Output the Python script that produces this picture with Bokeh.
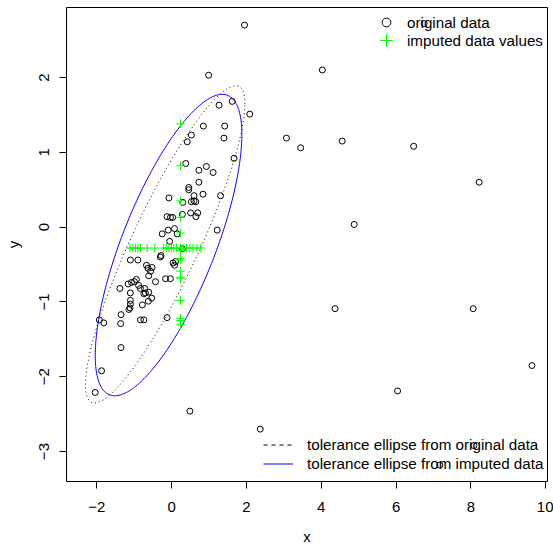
import numpy as np
from bokeh.plotting import figure
from bokeh.models import Range1d, FixedTicker, Legend, LegendItem
from bokeh.embed import file_html
from bokeh.resources import INLINE

# ---------------- data ----------------
orig_x = [1.95, 0.99, 4.03, 6.75, 2.09, 3.07, 3.45, 4.56, 6.47, 8.22, 4.88, 4.37, 8.06, 9.63,
          6.04, 2.37, 8.08, 7.17, 0.49,
          1.27, 1.62, 0.85, 1.42, 0.53, 0.42, 1.40, 1.67, 0.38, 0.73, 0.93, 1.11, 0.73, 0.46,
          0.46, -0.07, 0.60, 0.84, 0.30, 0.53, 0.60, 0.65, 1.31, 0.51, 0.70, 0.65, 0.29, -0.12,
          -0.03, 0.03, 1.22, -0.25, -0.09, 0.08, 0.15, -0.05, -0.28, -0.30, 0.29, 0.04, 0.11,
          0.08, -0.52,
          -1.10, -0.90, -0.67, -0.63, -0.56, -0.61, -0.16, -0.03, -0.43, -0.94, -0.99, -1.07,
          -1.16, -0.88, -0.83, -0.72, -0.61, -0.70, -1.38, -1.10, -0.74, -0.53, -0.62, -1.10,
          -1.10, -0.78, -1.11, -1.14, -1.35, -0.83, -0.74, -1.93, -1.81, -1.36, -0.12, -1.35,
          -1.87, -2.04]
orig_y = [2.70, 2.03, 2.10, 2.72, 1.51, 1.19, 1.06, 1.15, 1.08, 0.60, 0.035, -1.09, -1.09, -1.85,
          -2.19, -2.70, -2.92, -3.18, -2.46,
          1.63, 1.68, 1.35, 1.35, 1.23, 1.14, 1.19, 0.92, 0.85, 0.76, 0.81, 0.73, 0.60, 0.53,
          0.50, 0.39, 0.42, 0.44, 0.33, 0.34, 0.35, 0.34, 0.42, 0.19, 0.19, 0.14, 0.17, 0.14,
          0.13, 0.13, -0.04, -0.09, -0.04, -0.02, -0.09, -0.19, -0.38, -0.40, -0.29, -0.48, -0.46,
          -0.51, -0.54,
          -0.44, -0.44, -0.51, -0.55, -0.59, -0.65, -0.69, -0.69, -0.73, -0.70, -0.73, -0.74,
          -0.76, -0.78, -0.82, -0.82, -0.87, -0.88, -0.82, -0.88, -0.89, -0.95, -0.99, -0.98,
          -1.03, -1.04, -1.08, -1.10, -1.17, -1.24, -1.24, -1.24, -1.28, -1.29, -1.21, -1.61,
          -1.92, -2.21]

imp_x = [0.24] * 15 + [-1.11, -1.03, -0.96, -0.90, -0.83, -0.65, -0.45, -0.21, -0.13, -0.07,
                       0.0, 0.06, 0.13, 0.24, 0.31, 0.40, 0.49, 0.57, 0.68, 0.78]
imp_y = [1.38, 0.82, 0.35, 0.13, -0.08, -0.31, -0.42, -0.44, -0.59, -0.67, -0.69, -0.98,
         -1.22, -1.25, -1.30] + [-0.28] * 20

x_ticks = [-2, 0, 2, 4, 6, 8, 10]
y_ticks = [-3, -2, -1, 0, 1, 2]

center_orig = [-0.17, -0.23]
cov_orig = [[0.615, 0.542], [0.542, 0.609]]
center_imp = [-0.08, -0.24]
cov_imp = [[0.520, 0.392], [0.392, 0.550]]
chi2_q = 7.3778


def tolerance_ellipse(center, cov, q, n=300):
    t = np.linspace(0, 2 * np.pi, n)
    L = np.linalg.cholesky(np.array(cov))
    pts = np.sqrt(q) * (L @ np.vstack([np.cos(t), np.sin(t)]))
    return pts[0] + center[0], pts[1] + center[1]


FONT = "Liberation Sans"
FS = "15px"
LFS = "15.2px"

p = figure(width=553, height=547, output_backend="svg", toolbar_location=None,
           x_range=Range1d(-2.807, 10.046), y_range=Range1d(-3.40, 2.935),
           min_border_left=66, min_border_right=6, min_border_top=7, min_border_bottom=63)
p.background_fill_color = "white"
p.border_fill_color = "white"
p.outline_line_color = "black"
p.outline_line_width = 1
p.xgrid.grid_line_color = None
p.ygrid.grid_line_color = None

for ax in (p.xaxis[0], p.yaxis[0]):
    ax.axis_line_color = None
    ax.major_tick_out = 7
    ax.major_tick_in = 0
    ax.major_tick_line_color = "black"
    ax.minor_tick_line_color = None
    ax.major_label_text_font = FONT
    ax.major_label_text_font_size = FS
    ax.major_label_text_color = "black"
    ax.axis_label_text_font = FONT
    ax.axis_label_text_font_size = FS
    ax.axis_label_text_font_style = "normal"
    ax.axis_label_text_color = "black"

p.xaxis.ticker = FixedTicker(ticks=x_ticks)
p.yaxis.ticker = FixedTicker(ticks=y_ticks)
p.xaxis.major_label_overrides = {t: str(t).replace("-", "\u2212") for t in x_ticks}
p.yaxis.major_label_overrides = {t: str(t).replace("-", "\u2212") for t in y_ticks}
p.yaxis.major_label_orientation = "vertical"
p.xaxis.axis_label = "x"
p.yaxis.axis_label = "y"
p.xaxis.major_label_standoff = 13
p.xaxis.axis_label_standoff = 13
p.yaxis.major_label_standoff = 10
p.yaxis.axis_label_standoff = 15

# ellipses
ex, ey = tolerance_ellipse(center_orig, cov_orig, chi2_q)
p.line(ex, ey, line_color="black", line_width=1, line_dash="1 3")
bx, by = tolerance_ellipse(center_imp, cov_imp, chi2_q)
blue = p.line(bx, by, line_color="#0000FF", line_width=1)

# points
circ = p.scatter(orig_x, orig_y, marker="circle", size=6, fill_color=None,
                 line_color="black", line_width=1)
cross = p.scatter(imp_x, imp_y, marker="cross", size=8.5, line_color="#00FF00", line_width=1)

# legend-only renderer (dashed key line)
dash_dummy = p.line([np.nan, np.nan], [np.nan, np.nan], line_color="black", line_width=1,
                    line_dash="4 4")

common = dict(background_fill_alpha=0, border_line_alpha=0, padding=0, margin=0, spacing=0,
              label_text_font=FONT, label_text_font_size=LFS, label_text_color="black")

leg1 = Legend(items=[LegendItem(label="original data", renderers=[circ])],
              location=(309, 448), glyph_width=22, glyph_height=22, label_height=22,
              label_standoff=10, **common)
leg2 = Legend(items=[LegendItem(label="imputed data values", renderers=[cross])],
              location=(304, 425), glyph_width=32, glyph_height=32, label_height=32,
              label_standoff=5, **common)
leg3 = Legend(items=[LegendItem(label="tolerance ellipse from original data", renderers=[dash_dummy]),
                     LegendItem(label="tolerance ellipse from imputed data", renderers=[blue])],
              location=(197, 8), glyph_width=30, glyph_height=19, label_height=19,
              label_standoff=14, **common)
for lg in (leg1, leg2, leg3):
    p.add_layout(lg)

open("out.html", "w").write(file_html(p, INLINE))
